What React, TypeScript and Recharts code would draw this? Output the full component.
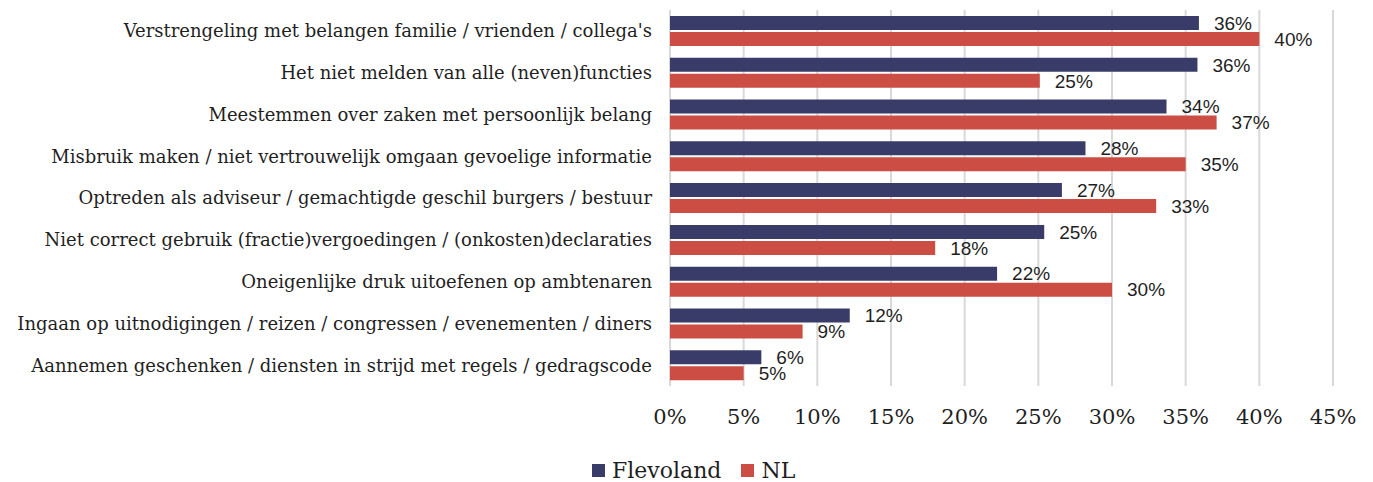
import React from 'react'
import { BarChart, Bar, XAxis, YAxis, CartesianGrid, Legend, LabelList } from 'recharts'

const categories = [
  'Verstrengeling met belangen familie / vrienden / collega\'s',
  'Het niet melden van alle (neven)functies',
  'Meestemmen over zaken met persoonlijk belang',
  'Misbruik maken / niet vertrouwelijk omgaan gevoelige informatie',
  'Optreden als adviseur / gemachtigde geschil burgers / bestuur',
  'Niet correct gebruik (fractie)vergoedingen / (onkosten)declaraties',
  'Oneigenlijke druk uitoefenen op ambtenaren',
  'Ingaan op uitnodigingen / reizen / congressen / evenementen / diners',
  'Aannemen geschenken / diensten in strijd met regels / gedragscode',
]
const flevoland = [35.9, 35.8, 33.7, 28.2, 26.6, 25.4, 22.2, 12.2, 6.2]
const nl = [40, 25.1, 37.1, 35, 33, 18, 30, 9, 5]
const xTicks = [0, 5, 10, 15, 20, 25, 30, 35, 40, 45]

const NAVY = '#393c68'
const RED = '#cb4d44'
const GRID = '#d9d9d9'
const TEXT = '#1f1f1f'
const SERIF = '"DejaVu Serif", serif'
const SANS = '"Liberation Sans", Arial, sans-serif'

const data = categories.map((name, i) => ({ name, Flevoland: flevoland[i], NL: nl[i] }))

function CategoryTick({ x, y, payload }: any) {
  return (
    <text x={x - 10} y={y} dy="0.36em" textAnchor="end" fill={TEXT} fontFamily={SERIF} fontSize={18}>
      {payload.value}
    </text>
  )
}

function PercentTick({ x, y, payload }: any) {
  return (
    <text x={x} y={y} dy={30} textAnchor="middle" fill={TEXT} fontFamily={SERIF} fontSize={21}>
      {payload.value}%
    </text>
  )
}

function LegendContent() {
  const items = [
    { name: 'Flevoland', color: NAVY },
    { name: 'NL', color: RED },
  ]
  return (
    <div style={{ display: 'flex', alignItems: 'center', gap: 20, fontFamily: SERIF, fontSize: 22, color: TEXT }}>
      {items.map(it => (
        <span key={it.name} style={{ display: 'flex', alignItems: 'center', gap: 7 }}>
          <span style={{ width: 13, height: 13, backgroundColor: it.color, display: 'inline-block' }} />
          {it.name}
        </span>
      ))}
    </div>
  )
}

const fmt = (v: any) => `${Math.round(Number(v))}%`

export default function App() {
  return (
    <BarChart
      width={1365}
      height={474}
      data={data}
      layout="vertical"
      margin={{ top: 2, right: 40, bottom: 0, left: 0 }}
      barSize={14}
      barGap={2}
    >
      <CartesianGrid horizontal={false} stroke={GRID} strokeWidth={2} />
      <XAxis
        type="number"
        domain={[0, 45]}
        ticks={xTicks}
        interval={0}
        axisLine={false}
        tickLine={false}
        tick={<PercentTick />}
        height={56}
      />
      <YAxis
        type="category"
        dataKey="name"
        width={662}
        axisLine={false}
        tickLine={false}
        interval={0}
        tick={<CategoryTick />}
      />
      <Legend
        verticalAlign="bottom"
        content={<LegendContent />}
        wrapperStyle={{ left: 584, top: 450, width: 260, height: 40 }}
      />
      <Bar dataKey="Flevoland" fill={NAVY} isAnimationActive={false}>
        <LabelList dataKey="Flevoland" position="right" offset={15} formatter={fmt} fill={TEXT} fontFamily={SANS} fontSize={19} />
      </Bar>
      <Bar dataKey="NL" fill={RED} isAnimationActive={false}>
        <LabelList dataKey="NL" position="right" offset={15} formatter={fmt} fill={TEXT} fontFamily={SANS} fontSize={19} />
      </Bar>
    </BarChart>
  )
}
